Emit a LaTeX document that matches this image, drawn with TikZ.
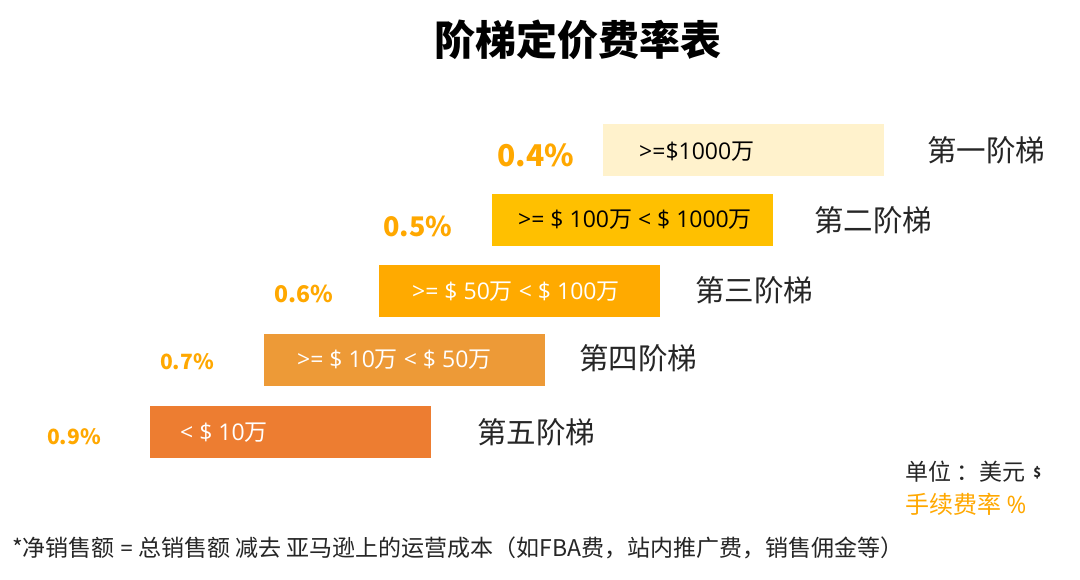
\documentclass[tikz,border=0pt]{standalone}
\usepackage{fontspec}
\setmainfont{Noto Sans CJK SC}
\newfontfamily\lat{Open Sans}
\definecolor{c1}{HTML}{FFF2CC}
\definecolor{c2}{HTML}{FFC000}
\definecolor{c3}{HTML}{FFAA00}
\definecolor{c4}{HTML}{ED9A37}
\definecolor{c5}{HTML}{ED7D31}
\definecolor{pct}{HTML}{FFA800}
\definecolor{ink}{HTML}{262626}
\tikzset{
  tier/.style={draw=none, minimum width=281pt, minimum height=52pt, inner sep=0pt},
  boxtxt/.style={anchor=west, inner sep=0pt, font=\fontsize{23}{26}\selectfont},
  pctlbl/.style={anchor=west, inner sep=0pt, text=pct, font=\bfseries},
  tierlbl/.style={anchor=west, inner sep=0pt, text=ink, font=\fontsize{29.5}{32}\selectfont},
}
\begin{document}
\begin{tikzpicture}[x=1pt,y=-1pt]
\useasboundingbox[fill=white] (0,0) rectangle (1080,579);
\node[inner sep=0pt, text=black, font=\fontsize{41}{46}\selectfont\bfseries] (title) at (578,40) {阶梯定价费率表};

\node[tier, fill=c1] (b1) at (743.5,149.5) {};
\node[tier, fill=c2] (b2) at (632,220) {};
\node[tier, fill=c3] (b3) at (519.5,291) {};
\node[tier, fill=c4] (b4) at (404.5,360) {};
\node[tier, fill=c5] (b5) at (290.5,432) {};

\node[boxtxt, text=black] (t1) at (639,152) {{\lat >=\$1000}万};
\node[boxtxt, text=black] (t2) at (518,220) {{\lat >= \$ 100}万{\lat{} < \$ 1000}万};
\node[boxtxt, text=white] (t3) at (412,292) {{\lat >= \$ 50}万{\lat{} < \$ 100}万};
\node[boxtxt, text=white] (t4) at (297,360) {{\lat >= \$ 10}万{\lat{} < \$ 50}万};
\node[boxtxt, text=white] (t5) at (180,433) {{\lat < \$ 10}万};

\node[pctlbl, font=\fontsize{30}{32}\selectfont\bfseries] (p1) at (497,155) {0.4\%};
\node[pctlbl, font=\fontsize{27}{30}\selectfont\bfseries] (p2) at (383,226) {0.5\%};
\node[pctlbl, font=\fontsize{23}{26}\selectfont\bfseries] (p3) at (274,294) {0.6\%};
\node[pctlbl, font=\fontsize{21}{24}\selectfont\bfseries] (p4) at (160,362) {0.7\%};
\node[pctlbl, font=\fontsize{21}{24}\selectfont\bfseries] (p5) at (47,437) {0.9\%};

\node[tierlbl] (l1) at (927,150) {第一阶梯};
\node[tierlbl] (l2) at (814,220) {第二阶梯};
\node[tierlbl] (l3) at (695,290) {第三阶梯};
\node[tierlbl] (l4) at (579,358) {第四阶梯};
\node[tierlbl] (l5) at (477,432) {第五阶梯};

\node[anchor=west, inner sep=0pt, text=ink, font=\fontsize{23}{26}\selectfont] (unit) at (905,472) {单位\hspace{5pt}：美元 \hspace{3pt}{\fontsize{13}{15}\selectfont\bfseries\raisebox{3pt}{\$}}};
\node[anchor=west, inner sep=0pt, text=pct, font=\fontsize{24}{26}\selectfont] (rate) at (905,504) {手续费率 {\lat\%}};

\node[anchor=west, inner sep=0pt, text=ink, font=\fontsize{23}{26}\selectfont] (note) at (12,548) {*净销售额 {\lat =} 总销售额 减去 亚马逊上的运营成本（如FBA费，站内推广费，销售佣金等）};
\end{tikzpicture}
\end{document}
